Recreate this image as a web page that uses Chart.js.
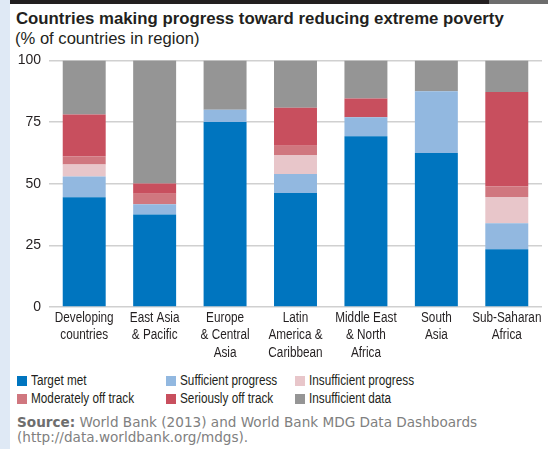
<!DOCTYPE html>
<html>
<head>
<meta charset="utf-8">
<script src="https://cdn.jsdelivr.net/npm/chart.js@4.4.1/dist/chart.umd.min.js"></script>
<style>
  html, body { margin:0; padding:0; }
  body { width:548px; height:449px; position:relative; background:#fff; overflow:hidden; }
  .strip { position:absolute; left:0; top:0; width:10px; height:449px; background:#dfe9f5; }
  .topbar { position:absolute; left:10px; top:0; width:479px; height:4px; background:#231f20; }
  .topbar2 { position:absolute; left:489px; top:0; width:59px; height:4px; background:#6d6d6d; }
  .title { position:absolute; left:16px; top:9px; font:bold 16.8px "Liberation Sans", Arial, sans-serif; color:#231f20; }
  .subtitle { position:absolute; left:15px; top:29px; font:16.6px "Liberation Sans", Arial, sans-serif; color:#231f20; }
  .wrap { position:absolute; left:0; top:44px; width:548px; height:318px; }
  .legend { position:absolute; left:0; top:371px; width:548px; font:14px "Liberation Sans", Arial, sans-serif; color:#231f20; }
  .legend .item { position:absolute; white-space:nowrap; line-height:18px; }
  .legend .sw { display:inline-block; width:10px; height:10px; margin-right:4px; vertical-align:-1px; }
  .legend .tx { display:inline-block; transform:scaleX(0.84); transform-origin:left center; }
  .source { position:absolute; left:17px; top:415px; font:13.6px "DejaVu Sans", Verdana, sans-serif; color:#808080; line-height:15px; }
  .source b { color:#6e6e6e; }
</style>
</head>
<body>
<div class="strip"></div>
<div class="topbar"></div>
<div class="topbar2"></div>
<div class="title">Countries making progress toward reducing extreme poverty</div>
<div class="subtitle">(% of countries in region)</div>
<div class="wrap"><canvas id="chart"></canvas></div>
<div class="legend" id="legend"></div>
<div class="source"><b>Source:</b> World Bank (2013) and World Bank MDG Data Dashboards<br>(http://data.worldbank.org/mdgs).</div>

<script>
const regions = [
  ['Developing', 'countries'],
  ['East Asia', '& Pacific'],
  ['Europe', '& Central', 'Asia'],
  ['Latin', 'America &', 'Caribbean'],
  ['Middle East', '& North', 'Africa'],
  ['South', 'Asia'],
  ['Sub-Saharan', 'Africa']
];

const seriesNames = ['Target met', 'Sufficient progress', 'Insufficient progress',
  'Moderately off track', 'Seriously off track', 'Insufficient data'];
const seriesColors = ['#0075bf', '#92b8e0', '#e8c6ca', '#d0777f', '#c84f5e', '#959595'];

const targetMet        = [44.5, 37.5, 75.0, 46.2, 69.2, 62.5, 23.4];
const sufficient       = [8.4, 4.2, 5.0, 7.7, 7.7, 25.0, 10.6];
const insufficient     = [4.9, 0, 0, 7.7, 0, 0, 10.6];
const moderatelyOff    = [3.2, 4.2, 0, 3.8, 0, 0, 4.3];
const seriouslyOff     = [17.1, 4.2, 0, 15.4, 7.7, 0, 38.3];
const insufficientData = [21.9, 50.0, 20.0, 19.2, 15.4, 12.5, 12.8];

const yTicks = [0, 25, 50, 75, 100];

const allSeries = [targetMet, sufficient, insufficient, moderatelyOff, seriouslyOff, insufficientData];

// x labels are condensed in the original; squeeze them horizontally
const narrowLabels = {
  id: 'narrowLabels',
  afterDraw(chart) {
    const ctx = chart.ctx;
    const xs = chart.scales.x;
    ctx.save();
    ctx.font = '14px "Liberation Sans", Arial, sans-serif';
    ctx.fillStyle = '#231f20';
    ctx.textAlign = 'center';
    ctx.textBaseline = 'middle';
    regions.forEach((lines, i) => {
      const x = xs.getPixelForValue(i);
      lines.forEach((ln, j) => {
        ctx.save();
        ctx.translate(x, xs.top + 11 + j * 17.5);
        ctx.scale(0.84, 1);
        ctx.fillText(ln, 0, 0);
        ctx.restore();
      });
    });
    ctx.restore();
  }
};

new Chart(document.getElementById('chart'), {
  type: 'bar',
  data: {
    labels: regions.map(r => r.join(' ')),
    datasets: allSeries.map((d, i) => ({
      label: seriesNames[i],
      data: d,
      backgroundColor: seriesColors[i],
      borderWidth: 0,
      categoryPercentage: 1,
      barPercentage: 0.61
    }))
  },
  options: {
    responsive: true,
    maintainAspectRatio: false,
    animation: false,
    layout: { padding: { top: 3, right: 6, left: 0, bottom: 0 } },
    plugins: { legend: { display: false }, tooltip: { enabled: false } },
    scales: {
      x: {
        stacked: true,
        grid: { display: false, drawTicks: false },
        border: { display: false },
        ticks: { display: false },
        afterFit: (s) => { s.height = 55; }
      },
      y: {
        stacked: true,
        min: 0, max: 100,
        afterBuildTicks: (s) => { s.ticks = yTicks.map(v => ({ value: v })); },
        grid: { color: '#d0d0d0', lineWidth: 1.6, drawTicks: false },
        border: { display: false },
        ticks: { color: '#231f20', font: { family: '"Liberation Sans", Arial, sans-serif', size: 14 }, padding: 8 },
        afterFit: (s) => { s.width = 49; }
      }
    }
  },
  plugins: [narrowLabels]
});

// legend in three columns
const legendPos = [[17, 0], [166, 0], [295, 0], [17, 18], [166, 18], [295, 18]];
const legendEl = document.getElementById('legend');
seriesNames.forEach((name, i) => {
  const div = document.createElement('div');
  div.className = 'item';
  div.style.left = legendPos[i][0] + 'px';
  div.style.top = legendPos[i][1] + 'px';
  div.innerHTML = `<span class="sw" style="background:${seriesColors[i]}"></span><span class="tx">${name}</span>`;
  legendEl.appendChild(div);
});
</script>
</body>
</html>
